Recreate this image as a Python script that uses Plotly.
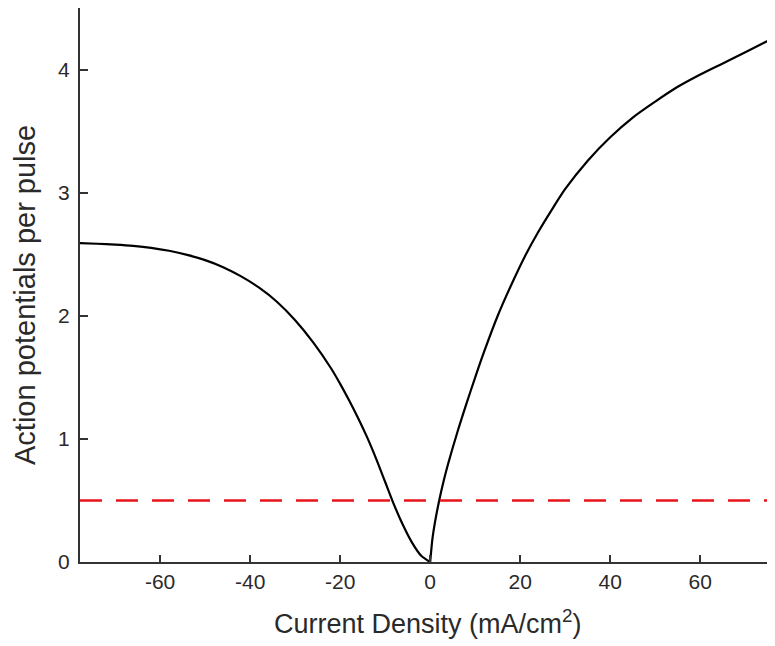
import plotly.graph_objects as go

# Left branch (negative current density)
x_neg = [-78, -74, -70, -66, -62, -58, -54, -50, -46, -42, -38, -34, -30, -26, -22, -20, -18, -16, -14, -12, -10, -8, -6, -4, -2, 0]
y_neg = [2.59, 2.585, 2.578, 2.568, 2.552, 2.528, 2.495, 2.452, 2.395, 2.32, 2.228, 2.112, 1.964, 1.784, 1.572, 1.447, 1.312, 1.168, 1.012, 0.838, 0.65, 0.462, 0.296, 0.155, 0.05, 0.0]

# Right branch (positive current density)
x_pos = [0, 0.5, 1, 2, 3, 4, 6, 8, 10, 12, 15, 18, 21, 24, 27, 30, 35, 40, 45, 50, 55, 60, 65, 70, 77]
y_pos = [0.0, 0.19, 0.31, 0.5, 0.66, 0.8, 1.05, 1.28, 1.5, 1.71, 2.0, 2.25, 2.48, 2.68, 2.86, 3.03, 3.26, 3.45, 3.61, 3.74, 3.86, 3.96, 4.05, 4.14, 4.27]

threshold = 0.5

x_ticks = [-60, -40, -20, 0, 20, 40, 60]
x_tick_text = ["-60", "-40", "-20", "0", "20", "40", "60"]
y_ticks = [0, 1, 2, 3, 4]

fig = go.Figure()
for xs, ys in ((x_neg, y_neg), (x_pos, y_pos)):
    fig.add_trace(go.Scatter(x=xs, y=ys, mode="lines",
                             line=dict(color="black", width=2.2, shape="spline", smoothing=0.8),
                             showlegend=False, hoverinfo="skip"))
fig.add_hline(y=threshold, line=dict(color="#e8141c", width=2.6, dash="22px,14px"))

font_fam = "Liberation Sans, Arial, sans-serif"
fig.update_layout(
    width=767, height=638,
    margin=dict(l=72, r=0, t=0, b=84),
    paper_bgcolor="white", plot_bgcolor="white",
    font=dict(family=font_fam, color="#2a2a2a", size=21),
    xaxis=dict(range=[-77.8, 76.6], tickvals=x_ticks, ticktext=x_tick_text, ticks="inside",
               ticklen=7, tickwidth=1.5, tickcolor="#333333", showline=True,
               linecolor="#333333", linewidth=2, showgrid=False, zeroline=False,
               tickfont=dict(size=21)),
    yaxis=dict(range=[0, 4.5], tickvals=y_ticks, ticks="inside", ticklen=8, tickwidth=1.5,
               tickcolor="#333333", showline=True, linecolor="#333333", linewidth=2,
               showgrid=False, zeroline=False, tickfont=dict(size=21), ticklabelstandoff=4),
    annotations=[
        dict(text="Current Density (mA/cm<sup>2</sup>)", xref="paper", yref="paper",
             x=0.5014, y=0, xanchor="center", yanchor="middle", yshift=-60,
             showarrow=False, font=dict(size=27, color="#2a2a2a")),
        dict(text="Action potentials per pulse", xref="paper", yref="paper",
             x=0, y=0.482, xanchor="center", yanchor="middle", xshift=-55,
             textangle=-90, showarrow=False, font=dict(size=29, color="#2a2a2a")),
    ],
)
fig.write_html("out.html")
